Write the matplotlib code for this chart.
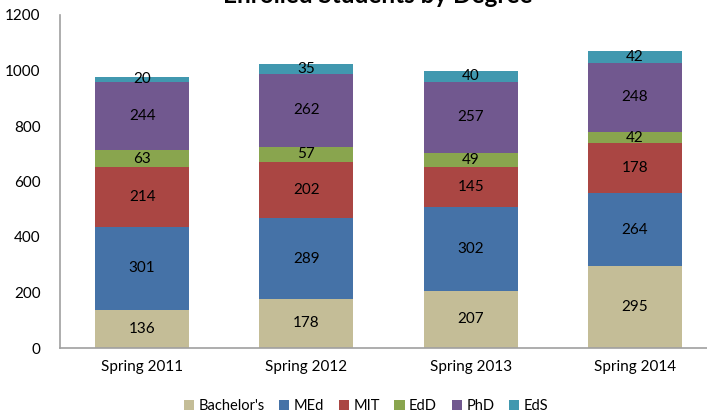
import numpy as np
import matplotlib
matplotlib.use("Agg")
import matplotlib.pyplot as plt

# datos
semestres = ["Spring 2011", "Spring 2012", "Spring 2013", "Spring 2014"]
grados = ["Bachelor's", "MEd", "MIT", "EdD", "PhD", "EdS"]
bachelor = [136, 178, 207, 295]
med = [301, 289, 302, 264]
mit = [214, 202, 145, 178]
edd = [63, 57, 49, 42]
phd = [244, 262, 257, 248]
eds = [20, 35, 40, 42]

colores = ["#C4BD97", "#4572A7", "#AA4643", "#89A54E", "#71588F", "#4198AF"]

plt.rcParams['font.family'] = ['Lato', 'DejaVu Sans']

fig = plt.figure(figsize=(7.07, 4.2), dpi=100)
# el area de trazado sale un poco por la derecha, como en el original
ax = fig.add_axes([60 / 707, 1 - 348 / 420, 657 / 707, 333 / 420])

x = np.arange(len(semestres))
base = np.zeros(len(semestres))
series = [bachelor, med, mit, edd, phd, eds]
for nombre, valores, color in zip(grados, series, colores):
    valores = np.array(valores)
    barras = ax.bar(x, valores, 0.573, bottom=base, color=color, label=nombre,
                    edgecolor=color, linewidth=0)
    ax.bar_label(barras, labels=[str(v) for v in valores], label_type='center',
                 fontsize=11, color='black')
    base += valores

ax.set_xlim(-0.5, len(semestres) - 0.5)
ax.set_ylim(0, 1200)
ax.set_yticks(range(0, 1201, 200))
ax.set_xticks(x)
ax.set_xticklabels(semestres)
ax.tick_params(axis='both', length=0, labelsize=11, colors='black')
ax.tick_params(axis='y', pad=14)
ax.tick_params(axis='x', pad=9)
for lado in ['top', 'right']:
    ax.spines[lado].set_visible(False)
for lado in ['left', 'bottom']:
    ax.spines[lado].set_color('#A0A0A0')
    ax.spines[lado].set_linewidth(1.2)

# titulo recortado arriba, igual que en la imagen original
fig.text(378 / 707, 1 - 3 / 420, "Enrolled Students by Degree", ha='center',
         va='baseline', fontsize=17.5, fontweight='bold')

fig.legend(loc='center', bbox_to_anchor=(366 / 707, 1 - 406 / 420), ncol=6,
           frameon=False, fontsize=10.5, handlelength=0.7, handleheight=0.7,
           handletextpad=0.3, columnspacing=1.0)

fig.savefig("out.png", dpi=100)
